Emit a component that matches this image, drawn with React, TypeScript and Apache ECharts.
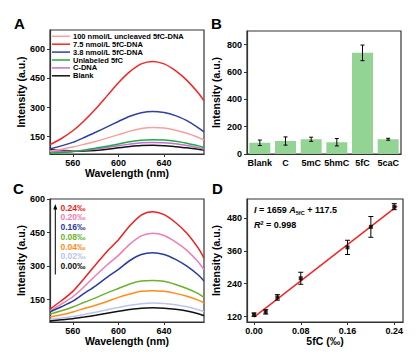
import React, { useEffect, useRef } from 'react';
import * as echarts from 'echarts';

const FONT = 'Arial, "Liberation Sans", sans-serif';

// Panel A / C wavelengths (nm)
const wavelengths = [540, 550, 560, 570, 580, 590, 600, 610, 620, 630, 640, 650, 660, 670, 675];

// Panel A spectra
const aNames = ['100 nmol/L uncleaved 5fC-DNA', '7.5 nmol/L 5fC-DNA', '3.8 nmol/L 5fC-DNA', 'Unlabeled 5fC', 'C-DNA', 'Blank'];
const aColors = ['#f7a0a0', '#f52525', '#2f3fa5', '#1fa84a', '#c46fd0', '#111111'];
const aPink = [75, 85, 96, 110, 125, 142, 160, 178, 192, 197, 194, 183, 167, 145, 132];
const aRed = [108, 140, 180, 232, 292, 360, 428, 485, 525, 538, 525, 490, 440, 375, 335];
const aBlue = [86, 102, 120, 145, 172, 200, 228, 255, 273, 280, 274, 258, 232, 195, 174];
const aGreen = [65, 68, 72, 80, 90, 100, 112, 123, 131, 134, 132, 126, 116, 102, 94];
const aPurple = [72, 74, 76, 80, 86, 94, 103, 111, 118, 120, 118, 113, 104, 92, 86];
const aBlack = [84, 80, 76, 76, 78, 84, 92, 99, 104, 105, 103, 98, 92, 84, 80];
const aSeries = [aPink, aRed, aBlue, aGreen, aPurple, aBlack];

// Panel B
const bCategories = ['Blank', 'C', '5mC', '5hmC', '5fC', '5caC'];
const bValues = [82, 95, 108, 86, 740, 108];
const bErrors = [20, 30, 15, 27, 57, 7];

// Panel C spectra
const cLabels = ['0.24‰', '0.20‰', '0.16‰', '0.08‰', '0.04‰', '0.02‰', '0.00‰'];
const cColors = ['#f01f1f', '#f07cb4', '#2c3b9e', '#6cb22e', '#ff8c1a', '#bcc4ee', '#111111'];
const c024 = [108, 145, 187, 245, 306, 365, 418, 480, 528, 543, 530, 495, 447, 380, 335];
const c020 = [100, 130, 163, 208, 258, 305, 348, 398, 435, 447, 437, 408, 370, 318, 283];
const c016 = [95, 118, 143, 178, 212, 250, 285, 325, 352, 360, 352, 330, 300, 260, 233];
const c008 = [85, 100, 117, 138, 158, 180, 200, 220, 233, 236, 232, 218, 200, 177, 160];
const c004 = [72, 82, 95, 110, 125, 142, 160, 175, 187, 190, 187, 178, 165, 148, 135];
const c002 = [62, 68, 75, 84, 94, 105, 115, 125, 132, 135, 133, 127, 118, 105, 96];
const c000 = [55, 60, 65, 72, 80, 89, 98, 106, 112, 114, 112, 107, 99, 87, 78];
const cSeries = [c024, c020, c016, c008, c004, c002, c000];

// Panel D
const dX = [0, 0.02, 0.04, 0.08, 0.16, 0.2, 0.24];
const dY = [127, 137, 190, 260, 373, 448, 522];
const dErr = [6, 8, 10, 22, 26, 38, 11];
const dFitX = [0, 0.245];
const dFitY = [117.5, 524];

const AXIS_COLOR = '#333';

function xAxisBase(gridIndex: number) {
  return {
    gridIndex,
    axisLine: { show: true, onZero: false, lineStyle: { color: AXIS_COLOR, width: 1.2 } },
    axisTick: { show: true, length: 3, lineStyle: { color: AXIS_COLOR, width: 1 } },
    axisLabel: { color: '#000', fontWeight: 'bold', fontSize: 9, fontFamily: FONT, margin: 4 },
    splitLine: { show: false },
    nameLocation: 'middle',
    nameGap: 13,
    nameTextStyle: { color: '#000', fontWeight: 'bold', fontSize: 10.5, fontFamily: FONT },
  } as any;
}

function yAxisBase(gridIndex: number) {
  return {
    gridIndex,
    axisLine: { show: true, onZero: false, lineStyle: { color: AXIS_COLOR, width: 1.2 } },
    axisTick: { show: true, length: 3, lineStyle: { color: AXIS_COLOR, width: 1 } },
    axisLabel: { color: '#000', fontWeight: 'bold', fontSize: 9, fontFamily: FONT, margin: 5 },
    splitLine: { show: false },
    name: 'Intensity (a.u.)',
    nameLocation: 'middle',
    nameGap: 23,
    nameTextStyle: { color: '#000', fontWeight: 'bold', fontSize: 10.5, fontFamily: FONT },
  } as any;
}

function errorBarRender(capHalf: number) {
  return (params: any, api: any) => {
    const x = api.value(0);
    const y = api.value(1);
    const e = api.value(2);
    const hi = api.coord([x, y + e]);
    const lo = api.coord([x, y - e]);
    const style = { stroke: '#000', lineWidth: 1 };
    return {
      type: 'group',
      children: [
        { type: 'line', shape: { x1: hi[0], y1: hi[1], x2: lo[0], y2: lo[1] }, style },
        { type: 'line', shape: { x1: hi[0] - capHalf, y1: hi[1], x2: hi[0] + capHalf, y2: hi[1] }, style },
        { type: 'line', shape: { x1: lo[0] - capHalf, y1: lo[1], x2: lo[0] + capHalf, y2: lo[1] }, style },
      ],
    };
  };
}

export default function App() {
  const ref = useRef<HTMLDivElement>(null);

  useEffect(() => {
    if (!ref.current) return;
    const chart = echarts.init(ref.current, undefined, { renderer: 'svg' });

    const gridStyle = { show: true, borderColor: AXIS_COLOR, borderWidth: 1.2, backgroundColor: 'transparent' };

    const series: any[] = [];
    aSeries.forEach((vals, i) => {
      series.push({
        name: aNames[i],
        type: 'line',
        xAxisIndex: 0,
        yAxisIndex: 0,
        symbol: 'none',
        smooth: 0.3,
        data: wavelengths.map((w, k) => [w, vals[k]]),
        lineStyle: { color: aColors[i], width: 1.5 },
        itemStyle: { color: aColors[i] },
        z: 10 - i,
      });
    });

    series.push({
      name: 'B bars',
      type: 'bar',
      xAxisIndex: 1,
      yAxisIndex: 1,
      data: bValues,
      barWidth: 21,
      itemStyle: { color: '#93d394' },
    });
    series.push({
      name: 'B err',
      type: 'custom',
      xAxisIndex: 1,
      yAxisIndex: 1,
      renderItem: errorBarRender(2),
      encode: { x: 0, y: 1 },
      data: bValues.map((v, i) => [i, v, bErrors[i]]),
      z: 5,
    });

    cSeries.forEach((vals, i) => {
      series.push({
        name: 'C ' + cLabels[i],
        type: 'line',
        xAxisIndex: 2,
        yAxisIndex: 2,
        symbol: 'none',
        smooth: 0.3,
        data: wavelengths.map((w, k) => [w, vals[k]]),
        lineStyle: { color: cColors[i], width: 1.5 },
        itemStyle: { color: cColors[i] },
      });
    });

    series.push({
      name: 'D fit',
      type: 'line',
      xAxisIndex: 3,
      yAxisIndex: 3,
      symbol: 'none',
      data: dFitX.map((x, i) => [x, dFitY[i]]),
      lineStyle: { color: '#f52525', width: 1.5 },
      z: 2,
    });
    series.push({
      name: 'D err',
      type: 'custom',
      xAxisIndex: 3,
      yAxisIndex: 3,
      renderItem: errorBarRender(2.5),
      encode: { x: 0, y: 1 },
      data: dX.map((x, i) => [x, dY[i], dErr[i]]),
      z: 4,
    });
    series.push({
      name: 'D pts',
      type: 'scatter',
      xAxisIndex: 3,
      yAxisIndex: 3,
      symbol: 'rect',
      symbolSize: 4,
      itemStyle: { color: '#000' },
      data: dX.map((x, i) => [x, dY[i]]),
      z: 5,
    });

    const cTextY0 = 207.7;
    const cTextStep = 9.7;
    const legY0 = 36.3;
    const legStep = 7.9;

    const legendGraphics: any[] = [];
    aNames.forEach((n, i) => {
      const y = legY0 + i * legStep;
      legendGraphics.push({
        type: 'line',
        shape: { x1: 52, y1: y, x2: 70, y2: y },
        style: { stroke: aColors[i], lineWidth: 1.5 },
        z: 100,
      });
      legendGraphics.push({
        type: 'text',
        x: 73,
        y,
        style: { text: n, font: 'bold 7.5px ' + FONT, fill: '#000', verticalAlign: 'middle' },
        z: 100,
      });
    });

    const option: any = {
      animation: false,
      backgroundColor: '#fff',
      textStyle: { fontFamily: FONT },
      grid: [
        { left: 50, top: 30, width: 154, height: 124, ...gridStyle },
        { left: 247, top: 31, width: 154, height: 123, ...gridStyle },
        { left: 50, top: 199, width: 154, height: 123, ...gridStyle },
        { left: 247, top: 199, width: 156, height: 123, ...gridStyle },
      ],
      xAxis: [
        {
          ...xAxisBase(0),
          type: 'value',
          min: 540,
          max: 675,
          name: 'Wavelength (nm)',
          axisTick: { ...xAxisBase(0).axisTick, customValues: [560, 600, 640] },
          axisLabel: { ...xAxisBase(0).axisLabel, customValues: [560, 600, 640] },
        },
        {
          ...xAxisBase(1),
          type: 'category',
          data: bCategories,
          axisTick: { show: false },
          axisLabel: { ...xAxisBase(1).axisLabel, interval: 0, fontSize: 9 },
        },
        {
          ...xAxisBase(2),
          type: 'value',
          min: 540,
          max: 675,
          name: 'Wavelength (nm)',
          axisTick: { ...xAxisBase(2).axisTick, customValues: [560, 600, 640] },
          axisLabel: { ...xAxisBase(2).axisLabel, customValues: [560, 600, 640] },
        },
        {
          ...xAxisBase(3),
          type: 'value',
          min: -0.012,
          max: 0.255,
          name: '5fC (‰)',
          axisTick: { ...xAxisBase(3).axisTick, customValues: [0, 0.08, 0.16, 0.24] },
          axisLabel: {
            ...xAxisBase(3).axisLabel,
            customValues: [0, 0.08, 0.16, 0.24],
            formatter: (v: number) => v.toFixed(2),
          },
        },
      ],
      yAxis: [
        {
          ...yAxisBase(0),
          type: 'value',
          min: 60,
          max: 700,
          axisTick: { ...yAxisBase(0).axisTick, customValues: [150, 300, 450, 600] },
          axisLabel: { ...yAxisBase(0).axisLabel, customValues: [150, 300, 450, 600] },
        },
        {
          ...yAxisBase(1),
          type: 'value',
          min: 0,
          max: 900,
          nameGap: 26,
          axisTick: { ...yAxisBase(1).axisTick, customValues: [0, 200, 400, 600, 800] },
          axisLabel: { ...yAxisBase(1).axisLabel, customValues: [0, 200, 400, 600, 800] },
        },
        {
          ...yAxisBase(2),
          type: 'value',
          min: 50,
          max: 600,
          axisTick: { ...yAxisBase(2).axisTick, customValues: [150, 300, 450, 600] },
          axisLabel: { ...yAxisBase(2).axisLabel, customValues: [150, 300, 450, 600] },
        },
        {
          ...yAxisBase(3),
          type: 'value',
          min: 100,
          max: 550,
          nameGap: 26,
          axisTick: { ...yAxisBase(3).axisTick, customValues: [120, 240, 360, 480] },
          axisLabel: { ...yAxisBase(3).axisLabel, customValues: [120, 240, 360, 480] },
        },
      ],
      graphic: [
        { type: 'text', left: 14, top: 16, style: { text: 'A', font: 'bold 15px ' + FONT, fill: '#000' } },
        { type: 'text', left: 211, top: 16, style: { text: 'B', font: 'bold 15px ' + FONT, fill: '#000' } },
        { type: 'text', left: 13, top: 181, style: { text: 'C', font: 'bold 15px ' + FONT, fill: '#000' } },
        { type: 'text', left: 212, top: 181, style: { text: 'D', font: 'bold 15px ' + FONT, fill: '#000' } },
        ...legendGraphics,
        ...cLabels.map((t, i) => ({
          type: 'text',
          x: 60.5,
          y: cTextY0 + i * cTextStep,
          style: {
            text: t,
            font: 'bold 8.5px ' + FONT,
            fill: cColors[i],
            verticalAlign: 'middle',
          },
        })),
        {
          type: 'line',
          shape: { x1: 55.3, y1: 274.5, x2: 55.3, y2: 208 },
          style: { stroke: '#000', lineWidth: 1 },
        },
        {
          type: 'polygon',
          shape: { points: [[53.3, 209.5], [57.3, 209.5], [55.3, 204]] },
          style: { fill: '#000' },
        },
        {
          type: 'text',
          x: 254,
          y: 210,
          style: {
            text: '{i|I} = 1659 {i|A}{sub|5fC} + 117.5',
            verticalAlign: 'middle',
            rich: {
              i: { font: 'italic bold 9px ' + FONT, fill: '#000' },
              sub: { font: 'bold 5.5px ' + FONT, fill: '#000', padding: [5, 0, 0, 0] },
            },
            font: 'bold 9px ' + FONT,
            fill: '#000',
          },
        },
        {
          type: 'text',
          x: 254,
          y: 225,
          style: {
            text: '{i|R}{sup|2} = 0.998',
            verticalAlign: 'middle',
            rich: {
              i: { font: 'italic bold 9px ' + FONT, fill: '#000' },
              sup: { font: 'bold 5.5px ' + FONT, fill: '#000', padding: [0, 0, 5, 0] },
            },
            font: 'bold 9px ' + FONT,
            fill: '#000',
          },
        },
      ],
      series,
    };

    chart.setOption(option);
    return () => chart.dispose();
  }, []);

  return (
    <div
      ref={ref}
      style={{ position: 'fixed', left: 0, top: 0, width: 419, height: 353, background: '#fff' }}
    />
  );
}
